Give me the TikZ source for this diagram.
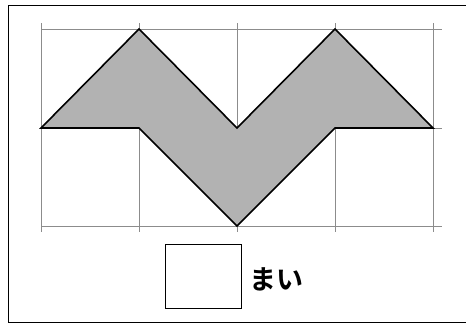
\documentclass[tikz,border=0pt]{standalone}
\usepackage{fontspec}
\newfontfamily\jpfont{Noto Sans CJK JP Bold}
\begin{document}
\begin{tikzpicture}[x=1pt,y=-1pt,
  gridline/.style={draw=black!45,line width=0.9pt},
  shapeline/.style={draw=black,line width=1.6pt,fill=black!30,line join=miter},
  answerbox/.style={draw=black,line width=0.8pt,minimum width=76pt,minimum height=64pt,inner sep=0pt},
  label/.style={font=\jpfont\fontsize{27}{27}\selectfont,inner sep=0pt}]
\useasboundingbox (0,0) rectangle (466,325);
% frame
\draw[line width=1pt] (466,5) -- (8,5) -- (8,322) -- (466,322);
% grid
\foreach \x in {41,139,237,335,433} \draw[gridline] (\x,23) -- (\x,232);
\foreach \y in {29,128,226} \draw[gridline] (41,\y) -- (442,\y);
% shape
\draw[shapeline] (41,128) -- (139,29) -- (237,128) -- (335,29) -- (433,128)
  -- (335,128) -- (237,226) -- (139,128) -- cycle;
% answer box and label
\node[answerbox] (box) at (203,276) {};
\node[label,anchor=west] (mai) at (249,279) {まい};
\end{tikzpicture}
\end{document}
